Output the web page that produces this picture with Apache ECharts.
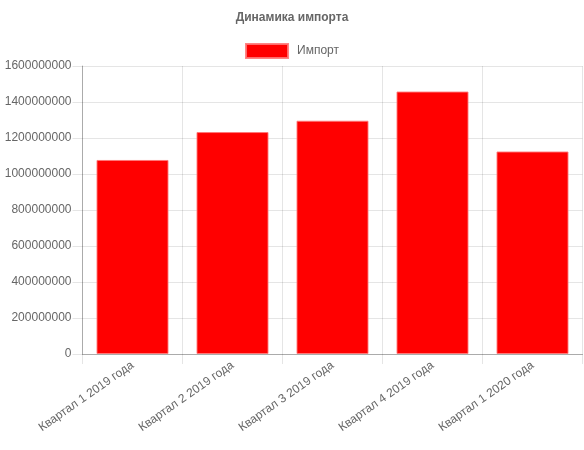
<!DOCTYPE html>
<html>
<head>
<meta charset="utf-8">
<script src="https://cdn.jsdelivr.net/npm/echarts@6/dist/echarts.min.js"></script>
<style>
html,body{margin:0;padding:0;background:#fff;}
#c{width:584px;height:450px;}
</style>
</head>
<body>
<div id="c"></div>
<script>
var titleText = 'Динамика импорта';
var seriesName = 'Импорт';
var categories = ['Квартал 1 2019 года', 'Квартал 2 2019 года', 'Квартал 3 2019 года', 'Квартал 4 2019 года', 'Квартал 1 2020 года'];
var importValues = [1078000000, 1233000000, 1296000000, 1458000000, 1125000000];
var yTicks = [0, 200000000, 400000000, 600000000, 800000000, 1000000000, 1200000000, 1400000000, 1600000000];

var font = '"Liberation Sans", Arial, Helvetica, sans-serif';
var chart = echarts.init(document.getElementById('c'), null, {renderer: 'canvas'});
chart.setOption({
  animation: false,
  backgroundColor: '#fff',
  title: {
    text: titleText,
    left: 'center',
    top: 12,
    padding: 0,
    textStyle: {fontFamily: font, fontSize: 12, fontWeight: 'bold', color: '#666'}
  },
  legend: {
    data: [seriesName],
    top: 43,
    left: 'center',
    padding: 0,
    icon: 'rect',
    itemWidth: 42,
    itemHeight: 14,
    itemGap: 10,
    textStyle: {fontFamily: font, fontSize: 12, color: '#666', padding: [0, 0, 0, 4]}
  },
  grid: {left: 82.5, right: 1.5, top: 66, bottom: 96, containLabel: false},
  xAxis: {
    type: 'category',
    data: categories,
    boundaryGap: true,
    axisLine: {show: true, lineStyle: {color: 'rgba(0,0,0,0.25)', width: 1}},
    axisTick: {show: true, alignWithLabel: false, length: 10, lineStyle: {color: 'rgba(0,0,0,0.1)'}},
    splitLine: {show: true, lineStyle: {color: 'rgba(0,0,0,0.1)', width: 1}},
    axisLabel: {
      rotate: 35,
      interval: 0,
      margin: 10,
      fontFamily: font,
      fontSize: 12,
      color: '#666'
    }
  },
  yAxis: {
    type: 'value',
    min: yTicks[0],
    max: yTicks[yTicks.length - 1],
    interval: yTicks[1] - yTicks[0],
    axisLine: {show: true, lineStyle: {color: 'rgba(0,0,0,0.25)', width: 1}},
    axisTick: {show: true, length: 10, lineStyle: {color: 'rgba(0,0,0,0.1)'}},
    splitLine: {show: true, lineStyle: {color: 'rgba(0,0,0,0.1)', width: 1}},
    axisLabel: {
      margin: 11,
      fontFamily: font,
      fontSize: 12,
      color: '#666',
      formatter: function (v) { return String(v); }
    }
  },
  series: [{
    name: seriesName,
    type: 'bar',
    data: importValues,
    barCategoryGap: '28%',
    itemStyle: {color: '#ff0000', borderColor: 'rgba(255,120,120,0.9)', borderWidth: 1}
  }]
});
</script>
</body>
</html>
